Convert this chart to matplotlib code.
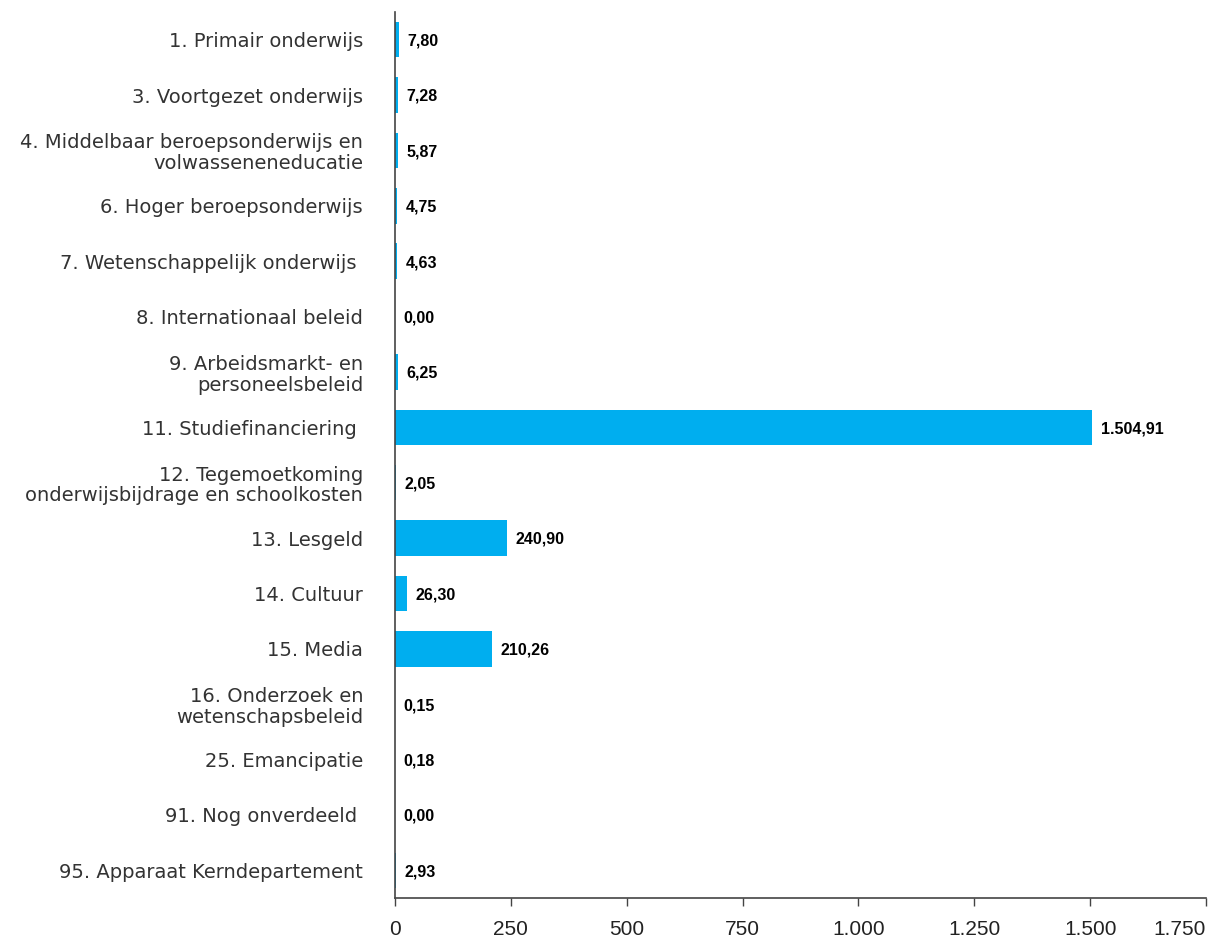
import numpy as np
import matplotlib.pyplot as plt

# categorieen en bedragen (in miljoenen)
categories = [
    "1. Primair onderwijs",
    "3. Voortgezet onderwijs",
    "4. Middelbaar beroepsonderwijs en\nvolwasseneneducatie",
    "6. Hoger beroepsonderwijs",
    "7. Wetenschappelijk onderwijs ",
    "8. Internationaal beleid",
    "9. Arbeidsmarkt- en\npersoneelsbeleid",
    "11. Studiefinanciering ",
    "12. Tegemoetkoming\nonderwijsbijdrage en schoolkosten",
    "13. Lesgeld",
    "14. Cultuur",
    "15. Media",
    "16. Onderzoek en\nwetenschapsbeleid",
    "25. Emancipatie",
    "91. Nog onverdeeld ",
    "95. Apparaat Kerndepartement",
]
values = [7.80, 7.28, 5.87, 4.75, 4.63, 0.00, 6.25, 1504.91, 2.05,
          240.90, 26.30, 210.26, 0.15, 0.18, 0.00, 2.93]
value_labels = ["7,80", "7,28", "5,87", "4,75", "4,63", "0,00", "6,25",
                "1.504,91", "2,05", "240,90", "26,30", "210,26", "0,15",
                "0,18", "0,00", "2,93"]
xticks = [0, 250, 500, 750, 1000, 1250, 1500, 1750]
xtick_labels = ["0", "250", "500", "750", "1.000", "1.250", "1.500", "1.750"]

fig = plt.figure(figsize=(12.14, 9.43), dpi=100)
ax = fig.add_axes([0.3254, 0.0477, 0.668, 0.9396])

y = np.arange(len(categories))
ax.barh(y, values, height=0.64, color="#00AEEF")

for yi, v, lab in zip(y, values, value_labels):
    ax.annotate(lab, (v, yi), xytext=(6, -1), textcoords="offset points",
                ha="left", va="center", fontsize=11.5, fontweight="bold",
                color="black", family="Liberation Sans")

ax.set_ylim(len(categories) - 0.5, -0.5)
ax.set_xlim(0, 1750)
ax.set_yticks(y)
ax.set_yticklabels(categories, fontsize=14, color="#333333",
                   family="DejaVu Sans", linespacing=1.12)
for t in ax.get_yticklabels():
    t.set_multialignment("right")
ax.tick_params(axis="y", length=0, pad=23)

ax.set_xticks(xticks)
ax.set_xticklabels(xtick_labels, fontsize=15, color="#222222",
                   family="Liberation Sans")
ax.get_xticklabels()[-1].set_ha("right")
ax.tick_params(axis="x", length=6, width=1, color="#444444", pad=10)

for s in ["top", "right"]:
    ax.spines[s].set_visible(False)
for s in ["left", "bottom"]:
    ax.spines[s].set_color("#444444")
    ax.spines[s].set_linewidth(1.2)

fig.savefig("out.png", dpi=100)
